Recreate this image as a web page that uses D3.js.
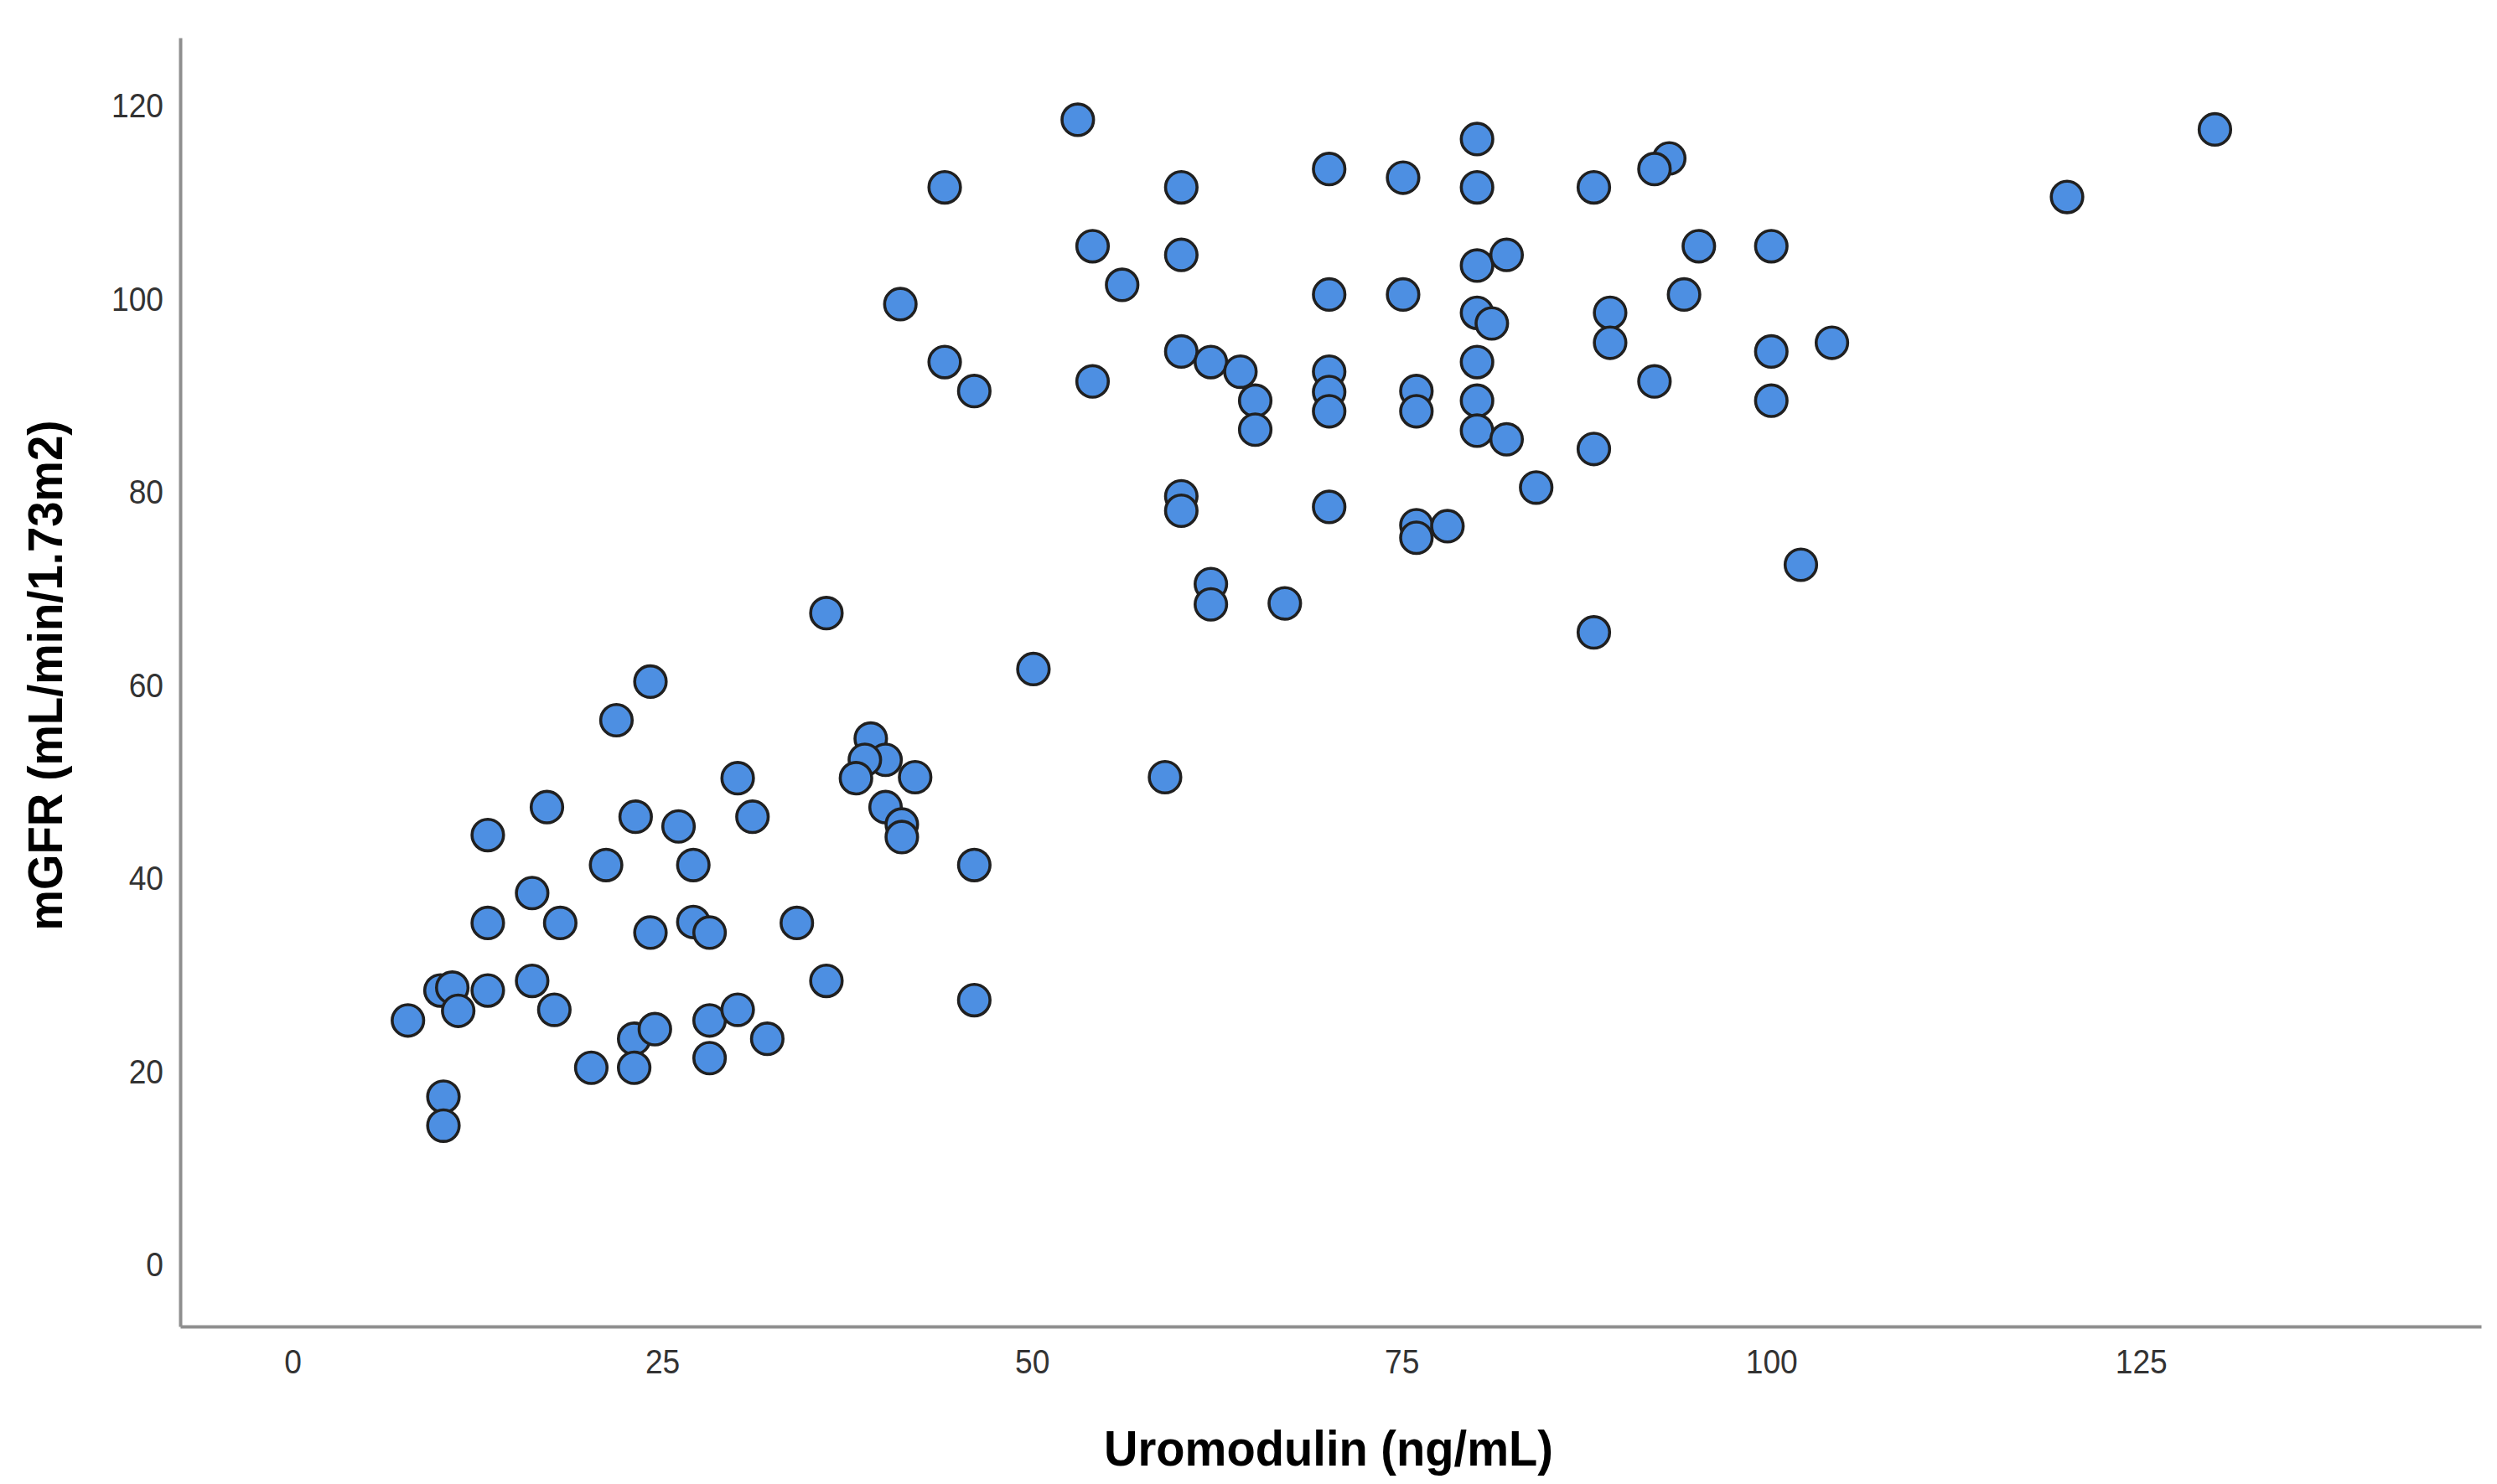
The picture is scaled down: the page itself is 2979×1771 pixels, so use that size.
<!DOCTYPE html>
<html><head><meta charset="utf-8">
<script src="https://cdn.jsdelivr.net/npm/d3@7"></script>
<style>html,body{margin:0;padding:0;background:#fff;}</style>
</head><body>
<svg id="chart" width="2979" height="1771"></svg>
<script>
const uromodulin = [
  53.1,44.1,60.1,54.1,60.1,56.1,41.1,70.1,75.1,70.1,75.1,44.1,46.1,54.1,60.1,62.1,64.1,65.1,65.1,70.1,
  70.1,70.1,76.0,76.0,60.1,60.1,70.1,76.0,76.0,62.1,62.1,67.1,36.1,50.1,59.0,80.1,80.1,88.0,93.1,92.1,
  95.1,100.0,80.1,82.1,94.1,80.1,81.1,89.1,89.1,100.0,104.1,80.1,80.1,80.1,82.1,92.1,100.0,88.0,84.1,78.1,
  102.0,88.0,120.0,130.0,
  24.2,21.9,39.1,40.1,38.7,38.1,42.1,30.1,17.2,23.2,26.1,31.1,40.1,41.2,41.2,13.2,21.2,27.1,46.1,16.2,
  13.2,18.1,24.2,27.1,28.2,34.1,10.0,10.8,11.2,13.2,16.2,17.7,7.8,36.1,46.1,23.1,24.5,28.2,30.1,32.1,
  20.2,23.1,28.2,10.2,10.2
];
const mgfr = [
  118.5,111.5,111.5,105.4,104.5,101.4,99.4,113.4,112.5,100.4,100.4,93.4,90.4,91.4,94.5,93.4,92.4,89.4,86.4,92.4,
  90.3,88.3,90.4,88.3,79.5,78.0,78.4,76.5,75.2,70.4,68.3,68.4,67.4,61.6,50.4,116.5,111.5,111.5,114.5,113.4,
  105.4,105.4,103.4,104.5,100.4,98.5,97.4,98.5,95.4,94.5,95.4,93.4,89.4,86.3,85.4,91.4,89.4,84.4,80.4,76.4,
  72.4,65.4,110.5,117.5,
  60.3,56.3,54.4,52.2,52.2,50.3,50.4,50.3,47.3,46.3,45.3,46.3,47.3,45.5,44.2,44.4,41.3,41.3,41.3,38.4,
  35.3,35.3,34.3,35.4,34.3,35.3,28.3,28.6,26.2,28.3,29.3,26.3,25.2,29.3,27.3,23.3,24.3,25.2,26.3,23.3,
  20.3,20.3,21.3,17.3,14.3
];
const xTickValues = [0,25,50,75,100,125];
const yTickValues = [0,20,40,60,80,100,120];
const xTitle = "Uromodulin (ng/mL)";
const yTitle = "mGFR (mL/min/1.73m2)";

const points = uromodulin.map((u,i)=>({x:u,y:mgfr[i]}));

const svg = d3.select("#chart");
svg.append("rect").attr("width",2979).attr("height",1771).attr("fill","#fff");

const x = d3.scaleLinear().domain([-7.6,148]).range([215,2960]);
const y = d3.scaleLinear().domain([-6.5,127]).range([1583,45]);

const fontFam = "'Liberation Sans', Arial, Helvetica, sans-serif";

// X axis
const gx = svg.append("g").attr("transform",`translate(0,${y.range()[0]})`)
  .call(d3.axisBottom(x).tickValues(xTickValues).tickSize(0).tickSizeOuter(0).tickFormat(d3.format("d")));
gx.select(".domain").attr("stroke","#8f8f8f").attr("stroke-width",4);
gx.selectAll(".tick text")
  .attr("y",0).attr("dy",0)
  .attr("transform","translate(0,56) scale(0.93,1)")
  .attr("fill","#333").style("font-family",fontFam).style("font-size","40px");

// Y axis
const gy = svg.append("g").attr("transform",`translate(${x.range()[0]},0)`)
  .call(d3.axisLeft(y).tickValues(yTickValues).tickSize(0).tickSizeOuter(0).tickFormat(d3.format("d")));
gy.select(".domain").attr("stroke","#8f8f8f").attr("stroke-width",4);
gy.selectAll(".tick text")
  .attr("x",0).attr("dy","0.358em")
  .attr("transform","translate(-20,0) scale(0.93,1)")
  .attr("fill","#333").style("font-family",fontFam).style("font-size","40px");

// Points
svg.append("g").selectAll("circle").data(points).join("circle")
  .attr("cx",d=>x(d.x)).attr("cy",d=>y(d.y)).attr("r",18.8)
  .attr("fill","#4d8fe2").attr("stroke","#202020").attr("stroke-width",3.6);

// Titles
svg.append("text").text(xTitle)
  .attr("x",1585).attr("y",1749).attr("text-anchor","middle")
  .attr("textLength",536).attr("lengthAdjust","spacingAndGlyphs")
  .style("font-family",fontFam).style("font-size","60px").style("font-weight","bold").attr("fill","#000");

svg.append("text").text(yTitle)
  .attr("transform","translate(74,806) rotate(-90)").attr("text-anchor","middle")
  .attr("textLength",609).attr("lengthAdjust","spacingAndGlyphs")
  .style("font-family",fontFam).style("font-size","58px").style("font-weight","bold").attr("fill","#000");
</script>
</body></html>
